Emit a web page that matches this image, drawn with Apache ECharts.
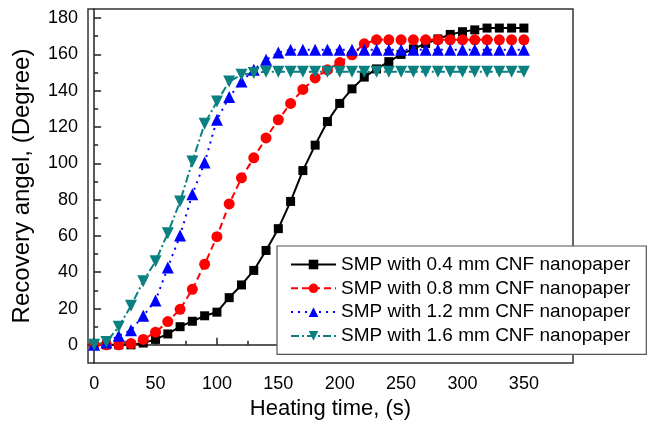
<!DOCTYPE html>
<html>
<head>
<meta charset="utf-8">
<script src="https://cdn.jsdelivr.net/npm/echarts@6/dist/echarts.min.js"></script>
<style>html,body{margin:0;padding:0;background:#fff;}#c{width:653px;height:427px;}</style>
</head>
<body>
<div id="c"></div>
<script>
const times = [0,10,20,30,40,50,60,70,80,90,100,110,120,130,140,150,160,170,180,190,200,210,220,230,240,250,260,270,280,290,300,310,320,330,340,350];
const s04 = [0,0,0,0,1,3,6,10,13,16,18,26,33,41,52,64,79,96,110,123,133,141,147.5,152,156,160,163,166,168.5,171,172.5,173.5,174.5,174.5,174.5,174.5];
const s08 = [0,0,0,0.7,3,7,12.8,19.6,30.6,44.4,59.6,77.6,92,103,114,124,133,140.7,147,151.5,155.5,159.8,165.8,168,168,168,168,168,168,168,168,168,168,168,168,168];
const s12 = [0,1.3,5,8,16,24.4,42.6,60.2,83,100.4,124,136.5,145,151.5,157,161,162.5,162.5,162.5,162.5,162.5,162.5,162.5,162.5,162.5,162.5,162.5,162.5,162.5,162.5,162.5,162.5,162.5,162.5,162.5,162.5];
const s16 = [0,1.5,10,21.5,35,46,61.5,79,101,121.8,134,145,148.8,149.7,150.5,150.5,150.5,150.5,150.5,150.5,150.5,150.5,150.5,150.5,150.5,150.5,150.5,150.5,150.5,150.5,150.5,150.5,150.5,150.5,150.5,150.5];
const seriesNames = ['SMP with 0.4 mm CNF nanopaper','SMP with 0.8 mm CNF nanopaper','SMP with 1.2 mm CNF nanopaper','SMP with 1.6 mm CNF nanopaper'];
const xMajor = [0,50,100,150,200,250,300,350];
const xMinor = [25,75,125,175,225,275,325,375];
const yMajor = [0,20,40,60,80,100,120,140,160,180];
const yMinor = [10,30,50,70,90,110,130,150,170];
const xTitle = 'Heating time, (s)';
const yTitle = 'Recovery angel, (Degree)';

const FONT = 'Liberation Sans, Arial, sans-serif';
const pair = (ys) => times.map((t,i)=>[t, ys[i]]);
const chart = echarts.init(document.getElementById('c'), null, {renderer:'canvas'});
const axisCommon = {
  axisLine:{show:true, lineStyle:{color:'#222', width:1.5}},
  splitLine:{show:false}
};
chart.setOption({
  animation:false,
  backgroundColor:'#fff',
  grid:{left:88, right:80, top:9, bottom:64, show:true, borderColor:'#333', borderWidth:1.5, backgroundColor:'transparent'},
  xAxis:[
    Object.assign({type:'value', min:-5, max:390, position:'bottom',
      name:xTitle, nameLocation:'middle', nameGap:35,
      nameTextStyle:{fontFamily:FONT, fontSize:22, color:'#000'},
      axisTick:{show:true, inside:true, length:7, customValues:xMajor, lineStyle:{color:'#222', width:1.5}},
      axisLabel:{show:true, customValues:xMajor, margin:12, fontFamily:FONT, fontSize:18, color:'#000'}
    }, axisCommon),
    {type:'value', min:-5, max:390, position:'bottom', axisLine:{show:false}, splitLine:{show:false},
      axisTick:{show:true, inside:true, length:4, customValues:xMinor, lineStyle:{color:'#222', width:1.5}},
      axisLabel:{show:false}}
  ],
  yAxis:[
    Object.assign({type:'value', min:-10, max:185, position:'left',
      name:yTitle, nameLocation:'middle', nameGap:54,
      nameTextStyle:{fontFamily:FONT, fontSize:24, color:'#000'},
      axisTick:{show:true, inside:true, length:7, customValues:yMajor, lineStyle:{color:'#222', width:1.5}},
      axisLabel:{show:true, customValues:yMajor, margin:10, fontFamily:FONT, fontSize:18, color:'#000'}
    }, axisCommon),
    {type:'value', min:-10, max:185, position:'left', axisLine:{show:false}, splitLine:{show:false},
      axisTick:{show:true, inside:true, length:4, customValues:yMinor, lineStyle:{color:'#222', width:1.5}},
      axisLabel:{show:false}}
  ],
  legend:{
    orient:'vertical', left:277, top:246,
    padding:[9,16,9,13], itemGap:4.8, itemWidth:45, itemHeight:12,
    backgroundColor:'#fff', borderColor:'#555', borderWidth:1.2,
    textStyle:{fontFamily:FONT, fontSize:19, color:'#000'},
    data:seriesNames
  },
  series:[
    {name:seriesNames[0], type:'line', data:pair(s04), symbol:'rect', symbolSize:9,
      lineStyle:{color:'#000', width:2, type:'solid'}, itemStyle:{color:'#000'}},
    {name:seriesNames[1], type:'line', data:pair(s08), symbol:'circle', symbolSize:11,
      lineStyle:{color:'#ff0000', width:2, type:[7,4]}, itemStyle:{color:'#ff0000'}},
    {name:seriesNames[2], type:'line', data:pair(s12), symbol:'triangle', symbolSize:12,
      lineStyle:{color:'#0000ff', width:2, type:[2,5]}, itemStyle:{color:'#0000ff'}},
    {name:seriesNames[3], type:'line', data:pair(s16), symbol:'triangle', symbolRotate:180, symbolSize:12,
      lineStyle:{color:'#0a8080', width:2, type:[8,3,2,3]}, itemStyle:{color:'#0a8080'}}
  ]
});
</script>
</body>
</html>
